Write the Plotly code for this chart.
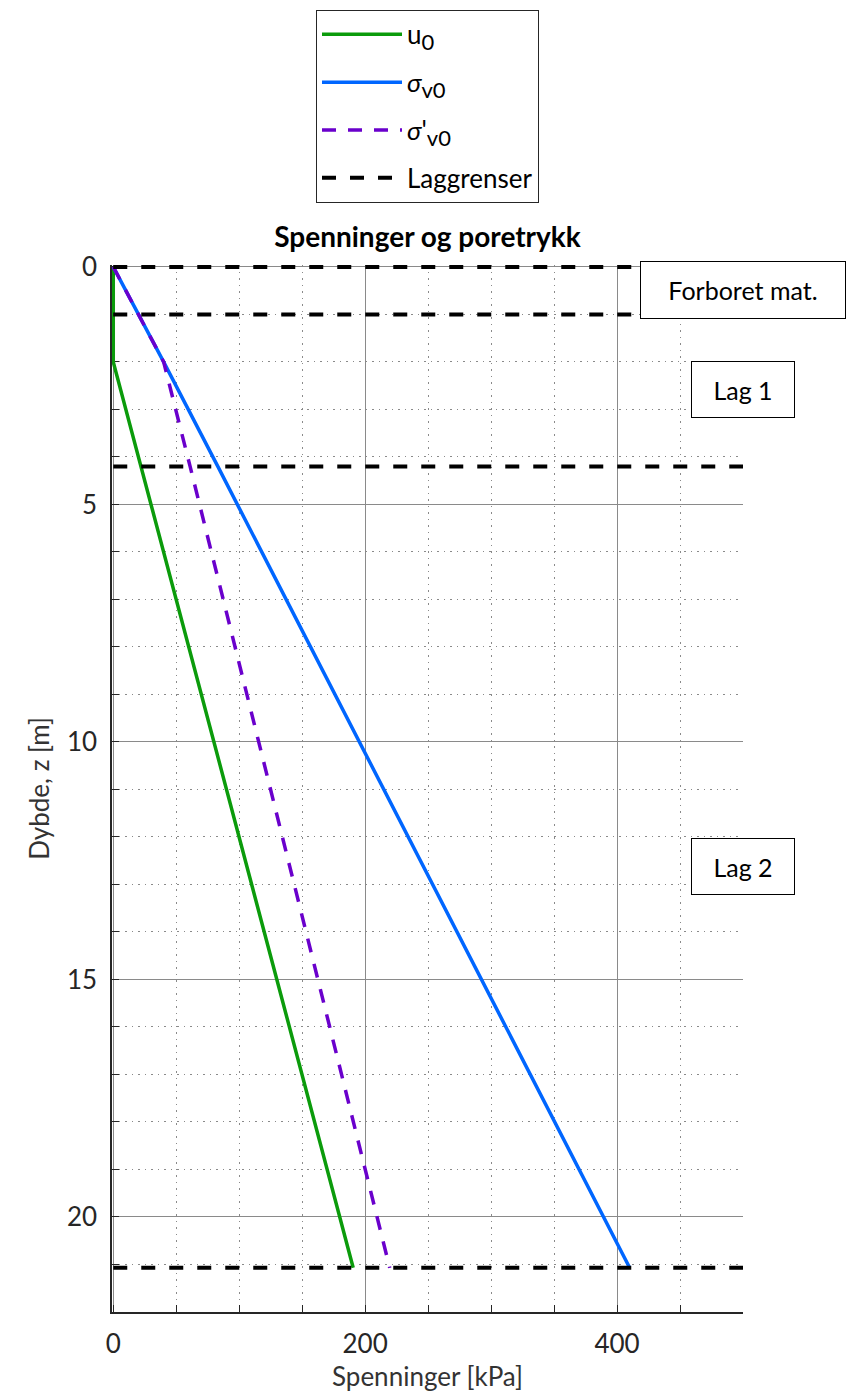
import plotly.graph_objects as go

# ---- data ----
z_u = [0, 2, 21.07]
u0 = [0, 0, 190.5]

z_sv = [0, 1, 2, 4.2, 21.07]
sigma_v0 = [0, 20, 40, 83, 410]

z_sve = [0, 1, 2, 4.2, 21.07]
sigma_v0_eff = [0, 20, 40, 61, 219.5]

layer_bounds = [0, 1, 4.2, 21.07]
x_max = 500

labels = [("Forboret mat.", 0.48), ("Lag 1", 2.58), ("Lag 2", 12.62)]

x_ticks = [0, 200, 400]
y_ticks = [0, 5, 10, 15, 20]

FONT = "Lato"
GREEN = "#0b9b0b"
BLUE = "#0066ff"
PURPLE = "#6a00cc"

SUB = "<sub><span style='font-size:22px'>{}</span></sub>"

fig = go.Figure()
fig.add_trace(go.Scatter(x=u0, y=z_u, mode="lines", name="u" + SUB.format("0"),
                         line=dict(color=GREEN, width=3.5), legendgroup="a"))
fig.add_trace(go.Scatter(x=sigma_v0, y=z_sv, mode="lines", name="<i>σ</i>" + SUB.format("v0"),
                         line=dict(color=BLUE, width=3.5), legendgroup="b"))
fig.add_trace(go.Scatter(x=sigma_v0_eff, y=z_sve, mode="lines", name="<i>σ</i>'" + SUB.format("v0"),
                         line=dict(color=PURPLE, width=3.5, dash="14px,12px"), legendgroup="c"))

lx, ly = [], []
for zb in layer_bounds:
    lx += [0, x_max, None]
    ly += [zb, zb, None]
fig.add_trace(go.Scatter(x=lx, y=ly, mode="lines", name="Laggrenser",
                         line=dict(color="black", width=4, dash="14px,14px"), legendgroup="d"))

for txt, zc in labels:
    if txt.startswith("Forboret"):
        w, h = 198, 50
    else:
        w, h = 96, 49
    fig.add_annotation(x=x_max, y=zc, xref="x", yref="y", text=txt, showarrow=False,
                       xanchor="center", yanchor="middle", width=w, height=h,
                       bgcolor="white", bordercolor="black", borderwidth=1, borderpad=3,
                       font=dict(family=FONT, size=25, color="black"))

fig.update_layout(
    width=859, height=1395,
    margin=dict(l=112, r=116, t=265, b=83, autoexpand=False),
    paper_bgcolor="white", plot_bgcolor="white",
    title=dict(text="<b>Spenninger og poretrykk</b>", x=0.5, xref="paper",
               y=1 - 237 / 1395, yref="container", yanchor="middle", xanchor="center",
               font=dict(family=FONT, size=28, color="black")),
    showlegend=True,
    legend=dict(x=0.5, xanchor="center", y=1.2436, yanchor="top",
                bgcolor="white", bordercolor="#262626", borderwidth=1,
                font=dict(family=FONT, size=26, color="black"),
                tracegroupgap=11, itemwidth=80),
)

fig.update_xaxes(
    range=[-1, x_max], tickvals=x_ticks, ticktext=[str(v) for v in x_ticks],
    showgrid=True, gridcolor="#8a8a8a", gridwidth=1, automargin=False,
    showline=True, linecolor="#262626", linewidth=1.5, layer="below traces",
    ticks="inside", ticklen=7, tickcolor="#262626", zeroline=False,
    tickfont=dict(family=FONT, size=26, color="#262626"), ticklabelstandoff=8,
    minor=dict(dtick=50, tick0=0, showgrid=True, gridcolor="#8a8a8a", griddash="1.5px,5px",
               gridwidth=1.2, ticks="inside", ticklen=7, tickcolor="#262626"),
    title=dict(text="Spenninger [kPa]", font=dict(family=FONT, size=26, color="#333333"),
               standoff=10),
)
fig.update_yaxes(
    range=[22, -0.04], tickvals=y_ticks, ticktext=[str(v) for v in y_ticks],
    showgrid=True, gridcolor="#8a8a8a", gridwidth=1, automargin=False,
    showline=True, linecolor="#262626", linewidth=1.5, layer="below traces",
    ticks="inside", ticklen=7, tickcolor="#262626", zeroline=False,
    tickfont=dict(family=FONT, size=26, color="#262626"), ticklabelstandoff=8,
    minor=dict(dtick=1, tick0=0, showgrid=True, gridcolor="#8a8a8a", griddash="1.5px,5px",
               gridwidth=1.2, ticks="inside", ticklen=7, tickcolor="#262626"),
    title=dict(text="Dybde, z [m]", font=dict(family=FONT, size=26, color="#333333"),
               standoff=10),
)

fig.write_html("out.html", config={"displayModeBar": False},
               post_script="document.body.style.margin='0';document.body.style.overflow='hidden';")
